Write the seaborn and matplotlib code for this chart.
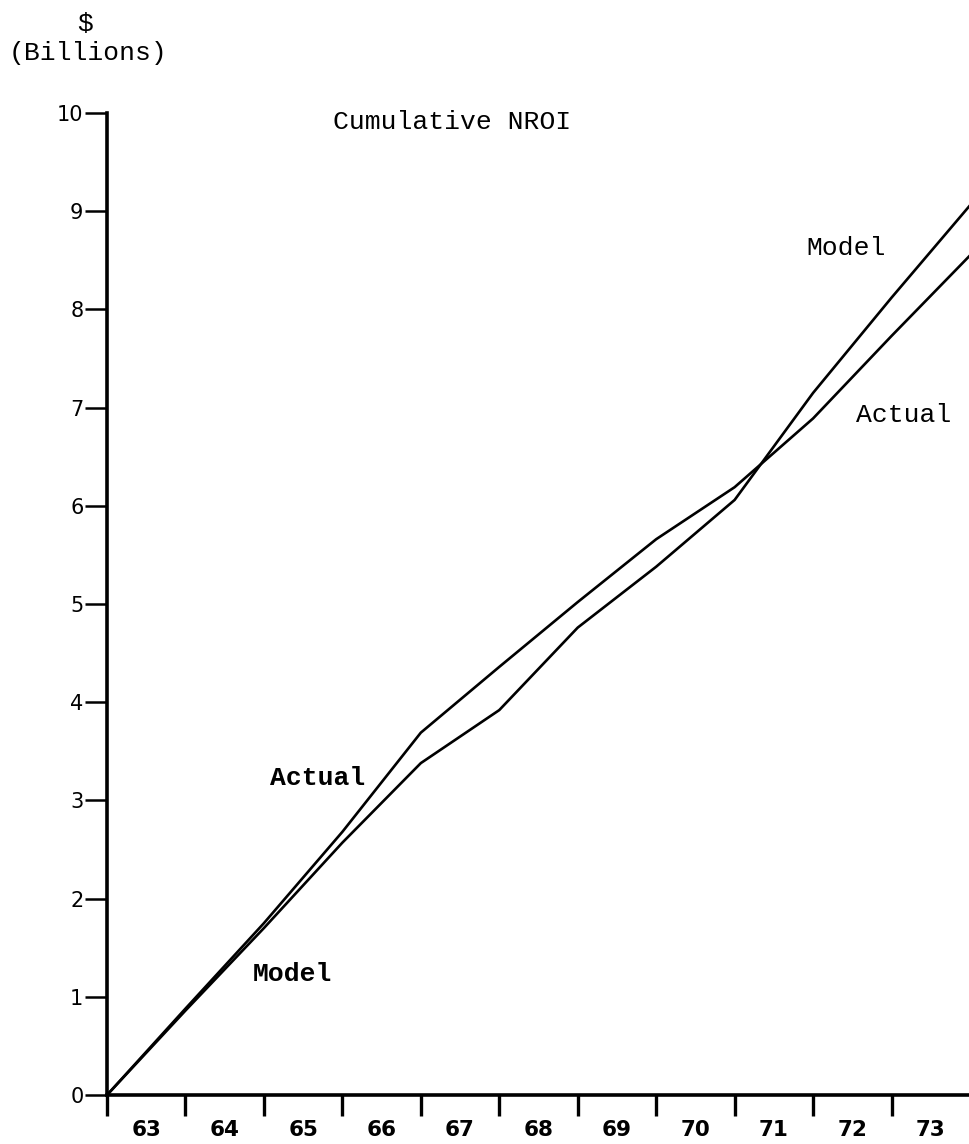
import numpy as np
import pandas as pd
import matplotlib
matplotlib.use("Agg")
import matplotlib.pyplot as plt
import seaborn as sns

# Cumulative net return on investment, $ billions, at each year end
year_end = [62.5, 63.5, 64.5, 65.5, 66.5, 67.5, 68.5, 69.5, 70.5, 71.5, 72.5, 73.5]
actual = [0.0, 0.88, 1.75, 2.68, 3.69, 4.36, 5.02, 5.66, 6.19, 6.89, 7.73, 8.55]
model = [0.0, 0.86, 1.70, 2.57, 3.38, 3.92, 4.76, 5.38, 6.06, 7.15, 8.12, 9.06]

years = [63, 64, 65, 66, 67, 68, 69, 70, 71, 72, 73]
year_labels = ["63", "64", "65", "66", "67", "68", "69", "70", "71", "72", "73"]
y_ticks = [0, 1, 2, 3, 4, 5, 6, 7, 8, 9, 10]

df = pd.DataFrame({
    "year": year_end * 2,
    "nroi": actual + model,
    "series": ["Actual"] * len(actual) + ["Model"] * len(model),
})

sns.set_theme(style="ticks")
plt.rcParams["font.family"] = ["DejaVu Sans"]
plt.rcParams["text.color"] = "black"

fig = plt.figure(figsize=(9.7, 11.44), dpi=100)
ax = fig.add_axes([0.1103, 0.0428, 0.8897, 0.8584])

sns.lineplot(data=df, x="year", y="nroi", hue="series",
             palette={"Actual": "black", "Model": "black"},
             linewidth=1.9, legend=False, ax=ax, sort=False)

ax.set_xlim(year_end[0], year_end[-1])
ax.set_ylim(0, 10)
ax.set_xlabel("")
ax.set_ylabel("")

for side in ("top", "right"):
    ax.spines[side].set_visible(False)
for side in ("left", "bottom"):
    ax.spines[side].set_linewidth(2.6)
    ax.spines[side].set_color("black")

# year labels centred in each year, boundary marks between years
ax.set_xticks(years)
ax.set_xticklabels(year_labels, fontsize=15.5, fontweight="bold")
ax.set_xticks(year_end[:-1], minor=True)
ax.tick_params(axis="x", which="major", length=0, pad=18, colors="black")
ax.tick_params(axis="x", which="minor", direction="out", length=15,
               width=2.4, color="black")

ax.set_yticks(y_ticks)
ax.set_yticklabels([str(v) for v in y_ticks], fontsize=15)
ax.tick_params(axis="y", which="major", direction="out", length=16,
               width=1.8, pad=1, colors="black")

mono = "Liberation Mono"
ax.text(65.38, 9.91, "Cumulative NROI", family=mono, fontsize=19,
        color="black", ha="left", va="center")
ax.text(71.42, 8.63, "Model", family=mono, fontsize=19, color="black",
        ha="left", va="center")
ax.text(72.05, 6.93, "Actual", family=mono, fontsize=19, color="black",
        ha="left", va="center")
ax.text(64.58, 3.23, "Actual", family=mono, fontsize=19, fontweight="bold",
        color="black", ha="left", va="center")
ax.text(64.36, 1.23, "Model", family=mono, fontsize=19, fontweight="bold",
        color="black", ha="left", va="center")

fig.text(85 / 970, 1 - 24 / 1144, "$", family=mono, fontsize=19,
         color="black", ha="center", va="center")
fig.text(88 / 970, 1 - 53 / 1144, "(Billions)", family=mono, fontsize=19,
         color="black", ha="center", va="center")

fig.savefig("out.png", dpi=100, facecolor="white")
